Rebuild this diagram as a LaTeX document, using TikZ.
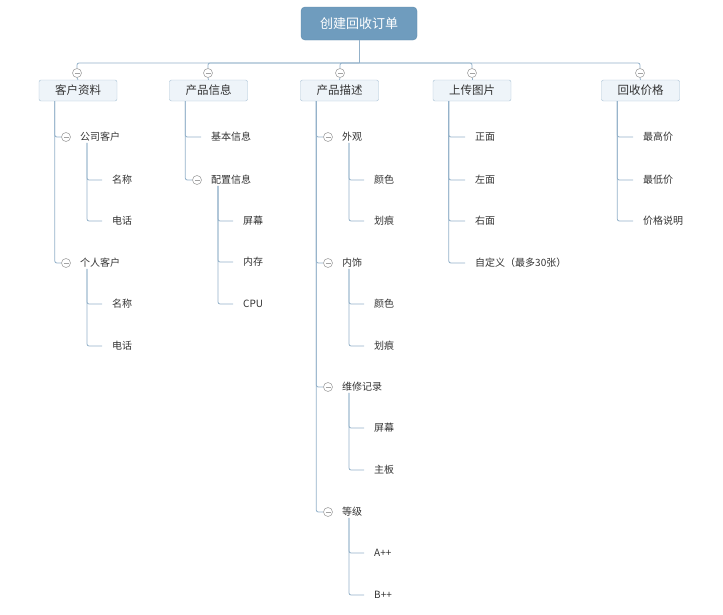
\documentclass[tikz,border=0pt]{standalone}
\usepackage{fontspec}
\newfontfamily\cjk{Noto Sans CJK SC}
\definecolor{rootfill}{HTML}{6F9CBE}
\definecolor{rootdraw}{HTML}{5C8AAB}
\definecolor{boxfill}{HTML}{EEF4F9}
\definecolor{boxdraw}{HTML}{A7C0D4}
\definecolor{linecol}{HTML}{93B1C9}
\definecolor{circcol}{HTML}{A3A3A3}
\definecolor{txt}{HTML}{333333}
\tikzset{
  rootbox/.style={draw=rootdraw, fill=rootfill, rounded corners=4pt, minimum width=116pt, minimum height=33pt, text=white, font=\cjk\fontsize{13}{15}\selectfont, inner sep=0pt},
  topicbox/.style={draw=boxdraw, fill=boxfill, rounded corners=2pt, minimum width=78pt, minimum height=21pt, text=txt, font=\cjk\fontsize{11.5}{13}\selectfont, inner sep=0pt},
  leaf/.style={anchor=west, inner sep=1pt, text=txt, font=\cjk\fontsize{10}{12}\selectfont},
  foldmark/.style={circle, draw=circcol, fill=white, minimum size=9pt, inner sep=0pt, line width=0.6pt,
    path picture={\draw[circcol, line width=0.6pt] ([xshift=2pt]path picture bounding box.west) -- ([xshift=-2pt]path picture bounding box.east);}},
  conn/.style={draw=linecol, line width=0.8pt, rounded corners=2pt},
}
\begin{document}
\begin{tikzpicture}[x=1pt,y=-1pt]
\useasboundingbox (0,0) rectangle (723,614);
% root
\node[rootbox] (root) at (359,23.5) {创建回收订单};
\coordinate (bus) at (359,63);
\draw[conn] (root.south) -- (bus);
% level 1
\node[topicbox] (b1) at (78,90.5) {客户资料};
\node[topicbox] (b2) at (208.5,90.5) {产品信息};
\node[topicbox] (b3) at (339.5,90.5) {产品描述};
\node[topicbox] (b4) at (472,90.5) {上传图片};
\node[topicbox] (b5) at (640.5,90.5) {回收价格};
\foreach \i/\x in {1/77,2/208,3/340,4/472,5/640}{
  \node[foldmark] (o\i) at (\x,73) {};
  \draw[conn] (o\i.north) |- (bus);
  \draw[conn] (o\i.south) -- (b\i.north);
}
\foreach \i in {1,...,5}{ \coordinate (v\i) at ([xshift=16pt]b\i.south west); }

% ---- 客户资料
\node[foldmark] (c11) at (66,137) {};
\node[leaf] (t11) at (79,137) {公司客户};
\node[foldmark] (c12) at (66,263) {};
\node[leaf] (t12) at (79,263) {个人客户};
\draw[conn] (v1) |- (c11.west);
\draw[conn] (v1) |- (c12.west);
\coordinate (s11) at ([xshift=8pt]t11.south west);
\coordinate (s12) at ([xshift=8pt]t12.south west);
\node[leaf] (l111) at (111,180) {名称};
\node[leaf] (l112) at (111,221) {电话};
\node[leaf] (l121) at (111,304) {名称};
\node[leaf] (l122) at (111,346) {电话};
\foreach \n in {l111,l112}{ \draw[conn] (s11) |- ([xshift=-9pt]\n.west); }
\foreach \n in {l121,l122}{ \draw[conn] (s12) |- ([xshift=-9pt]\n.west); }

% ---- 产品信息
\node[leaf] (t21) at (210,137) {基本信息};
\draw[conn] (v2) |- ([xshift=-9pt]t21.west);
\node[foldmark] (c22) at (197,180) {};
\node[leaf] (t22) at (210,180) {配置信息};
\draw[conn] (v2) |- (c22.west);
\coordinate (s22) at ([xshift=8pt]t22.south west);
\node[leaf] (l221) at (242,221) {屏幕};
\node[leaf] (l222) at (242,262) {内存};
\node[leaf] (l223) at (242,304) {CPU};
\foreach \n in {l221,l222,l223}{ \draw[conn] (s22) |- ([xshift=-9pt]\n.west); }

% ---- 产品描述
\node[foldmark] (c31) at (328,137) {};
\node[leaf] (t31) at (341,137) {外观};
\node[foldmark] (c32) at (328,263) {};
\node[leaf] (t32) at (341,263) {内饰};
\node[foldmark] (c33) at (328,387) {};
\node[leaf] (t33) at (341,387) {维修记录};
\node[foldmark] (c34) at (328,512) {};
\node[leaf] (t34) at (341,512) {等级};
\foreach \k in {1,...,4}{
  \draw[conn] (v3) |- (c3\k.west);
  \coordinate (s3\k) at ([xshift=8pt]t3\k.south west);
}
\node[leaf] (l311) at (373,180) {颜色};
\node[leaf] (l312) at (373,221) {划痕};
\node[leaf] (l321) at (373,304) {颜色};
\node[leaf] (l322) at (373,346) {划痕};
\node[leaf] (l331) at (373,428) {屏幕};
\node[leaf] (l332) at (373,470) {主板};
\node[leaf] (l341) at (373,553) {A++};
\node[leaf] (l342) at (373,595) {B++};
\foreach \k in {1,...,4}{
  \foreach \j in {1,2}{ \draw[conn] (s3\k) |- ([xshift=-9pt]l3\k\j.west); }
}

% ---- 上传图片
\node[leaf] (l41) at (474,137) {正面};
\node[leaf] (l42) at (474,180) {左面};
\node[leaf] (l43) at (474,221) {右面};
\node[leaf] (l44) at (474,263) {自定义（最多30张）};
\foreach \j in {1,...,4}{ \draw[conn] (v4) |- ([xshift=-9pt]l4\j.west); }

% ---- 回收价格
\node[leaf] (l51) at (642,137) {最高价};
\node[leaf] (l52) at (642,180) {最低价};
\node[leaf] (l53) at (642,221) {价格说明};
\foreach \j in {1,...,3}{ \draw[conn] (v5) |- ([xshift=-9pt]l5\j.west); }
\end{tikzpicture}
\end{document}
